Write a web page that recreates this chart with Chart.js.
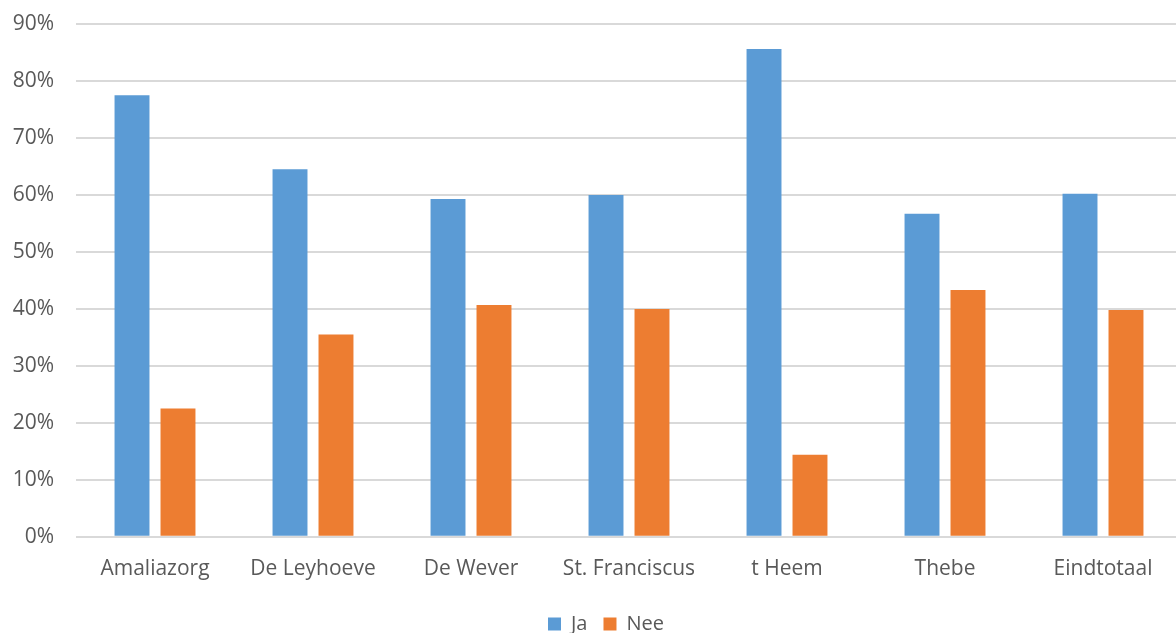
<!DOCTYPE html>
<html>
<head>
<meta charset="utf-8">
<script src="https://cdn.jsdelivr.net/npm/chart.js@4"></script>
<style>
  html, body { margin: 0; padding: 0; background: #fff; overflow: hidden; }
  #wrap { width: 1184px; height: 633px; position: relative; }
</style>
</head>
<body>
<div id="wrap"><canvas id="myChart"></canvas></div>
<script>
// categories and values (percent)
const locations = ["Amaliazorg", "De Leyhoeve", "De Wever", "St. Franciscus", "t Heem", "Thebe", "Eindtotaal"];
const jaValues = [77.5, 64.5, 59.3, 60.0, 85.6, 56.7, 60.2];
const neeValues = [22.5, 35.5, 40.7, 40.0, 14.4, 43.3, 39.8];
const yTicks = [0, 10, 20, 30, 40, 50, 60, 70, 80, 90];

const ctx = document.getElementById("myChart");
const textColor = "#595959";
const fontSize = 21;

// the y labels are clipped to the axis box, so widen it after layout
const yLabelRoom = {
  id: "yLabelRoom",
  afterLayout: (chart) => {
    chart.scales.y.left = 0;
  },
};

new Chart(ctx, {
  type: "bar",
  data: {
    labels: locations,
    datasets: [
      { label: "Ja", data: jaValues, backgroundColor: "#5B9BD5" },
      { label: "Nee", data: neeValues, backgroundColor: "#ED7D31" },
    ],
  },
  plugins: [yLabelRoom],
  options: {
    responsive: true,
    maintainAspectRatio: false,
    animation: false,
    categoryPercentage: 0.582,
    barPercentage: 0.76,
    layout: { padding: { left: 30, right: 2, top: 24, bottom: -11 } },
    plugins: {
      tooltip: { enabled: false },
      legend: {
        position: "bottom",
        labels: {
          boxWidth: 13,
          boxHeight: 13,
          padding: 16,
          color: textColor,
          font: { family: "'Open Sans', sans-serif", size: fontSize - 1 },
        },
      },
    },
    scales: {
      x: {
        grid: { display: false },
        border: { display: false },
        afterFit: (axis) => {
          axis.height += 4;
        },
        ticks: {
          color: textColor,
          padding: 12,
          font: { family: "'Open Sans', sans-serif", size: fontSize },
        },
      },
      y: {
        min: 0,
        max: 90,
        afterBuildTicks: (axis) => {
          axis.ticks = yTicks.map((v) => ({ value: v }));
        },
        afterFit: (axis) => {
          // fixed width so the plot starts where the reference does
          axis.width = 46;
          axis.paddingTop = 0;
          axis.paddingBottom = 0;
        },
        grid: { color: "#D9D9D9", lineWidth: 2, drawTicks: false },
        border: { display: false },
        ticks: {
          color: textColor,
          padding: 22,
          font: { family: "'Open Sans', sans-serif", size: fontSize },
          callback: (v) => v + "%",
        },
      },
    },
  },
});
</script>
</body>
</html>
